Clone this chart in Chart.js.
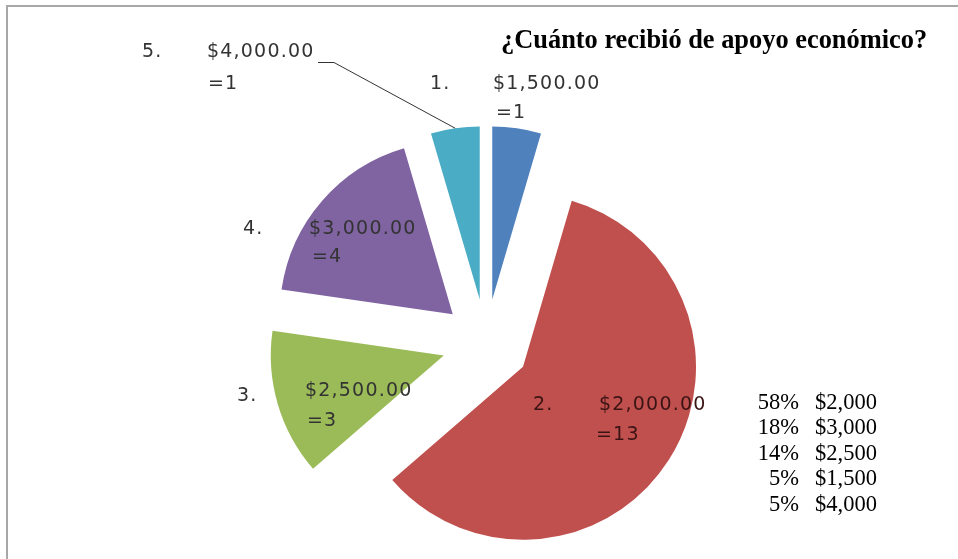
<!DOCTYPE html>
<html>
<head>
<meta charset="utf-8">
<script src="https://cdn.jsdelivr.net/npm/chart.js@4.4.0/dist/chart.umd.min.js"></script>
<style>
  html, body { margin: 0; padding: 0; background: #fff; }
  #wrap { position: relative; width: 958px; height: 559px; overflow: hidden; }
  #frame { position: absolute; left: 6px; top: 5px; right: 0; bottom: 0;
           border-top: 2px solid #a8a8a8; border-left: 2px solid #a8a8a8; }
  canvas { position: absolute; left: 0; top: 0; }
</style>
</head>
<body>
<div id="wrap">
  <div id="frame"></div>
  <canvas id="pie" width="958" height="559"></canvas>
</div>
<script>
// data, in drawing order (clockwise from 12 o'clock)
const categories = ['$1,500.00', '$2,000.00', '$2,500.00', '$3,000.00', '$4,000.00']
const numbers = ['1.', '2.', '3.', '4.', '5.']
const counts = [1, 13, 3, 4, 1]
const sliceColors = ['#4F81BD', '#C0504D', '#9BBB59', '#8064A2', '#4BACC6']

const titleText = '¿Cuánto recibió de apoyo económico?'
const legendPct = ['58%', '18%', '14%', '5%', '5%']
const legendAmt = ['$2,000', '$3,000', '$2,500', '$1,500', '$4,000']

const pieRadius = 173
// how far each slice is pulled out, in px
const pullOut = [44, 44, 44, 44, 44]

// where each slice label sits: [numX, numY, amtX, amtY, eqX, eqY]
const labelPos = [
    [430, 84, 493, 84, 496, 113],
    [533, 405, 599, 405, 596, 435],
    [237, 396, 305, 391, 307, 421],
    [243, 229, 309, 229, 312, 257],
    [142, 52, 207, 52, 208, 84],
]

// chart.js shifts an arc by offset/4, grows it by offset/4 * fix and trims its
// angle a little, so undo the growing and the trimming: plain exploded slices
const sliceOffsets = pullOut.map(d => 4 * d)

const keepRadius = {
    id: 'keepRadius',
    afterDatasetUpdate(chart, args) {
        args.meta.data.forEach((arc, i) => {
            const fix = 1 - Math.sin(Math.min(Math.PI, arc.circumference))
            const grow = pullOut[i] * fix
            const trim = grow / (2 * Math.PI * pieRadius)
            arc.outerRadius = pieRadius - grow
            arc.startAngle -= trim
            arc.endAngle += trim
        })
    }
}

const labelPlugin = {
    id: 'labels',
    afterDatasetsDraw(chart) {
        const ctx = chart.ctx
        const arcs = chart.getDatasetMeta(0).data

        // leader line from the $4,000.00 label to its slice
        const a = arcs[4]
        const mid = (a.startAngle + a.endAngle) / 2
        const dist = pullOut[4] + pieRadius
        const ex = a.x + Math.cos(mid) * dist
        const ey = a.y + Math.sin(mid) * dist
        ctx.save()
        ctx.strokeStyle = '#333'
        ctx.lineWidth = 1
        ctx.beginPath()
        ctx.moveTo(318, 62.5)
        ctx.lineTo(334, 62.5)
        ctx.lineTo(ex, ey)
        ctx.stroke()

        // slice labels
        ctx.font = '19px "DejaVu Sans"'
        ctx.letterSpacing = '1.2px'
        ctx.textBaseline = 'middle'
        ctx.textAlign = 'left'
        categories.forEach((cat, i) => {
            const p = labelPos[i]
            ctx.fillStyle = i === 1 ? '#3a1414' : '#333'
            ctx.fillText(numbers[i], p[0], p[1])
            ctx.fillText(cat, p[2], p[3])
            ctx.fillText('=' + counts[i], p[4], p[5])
        })
        ctx.letterSpacing = '0px'

        // title
        ctx.fillStyle = '#000'
        ctx.font = 'bold 26.4px "Liberation Serif"'
        ctx.textBaseline = 'alphabetic'
        ctx.fillText(titleText, 501, 48)

        // percentage table
        ctx.font = '22.5px "Liberation Serif"'
        ctx.textBaseline = 'middle'
        legendPct.forEach((pct, i) => {
            const y = 403 + i * 25.5
            ctx.textAlign = 'right'
            ctx.fillText(pct, 799, y)
            ctx.textAlign = 'left'
            ctx.fillText(legendAmt[i], 815, y)
        })
        ctx.restore()
    }
}

const myChart = new Chart(document.getElementById('pie').getContext('2d'), {
    type: 'pie',
    data: {
        labels: categories,
        datasets: [{
            data: counts,
            backgroundColor: sliceColors,
            borderWidth: 0,
            offset: sliceOffsets,
            hoverOffset: 0,
            clip: false,
        }]
    },
    options: {
        responsive: false,
        animation: false,
        events: [],
        radius: pieRadius,
        layout: {
            padding: { left: 14, right: 0, top: 127, bottom: 0 }
        },
        plugins: {
            legend: { display: false },
            tooltip: { enabled: false },
            title: { display: false },
        }
    },
    plugins: [keepRadius, labelPlugin]
})
</script>
</body>
</html>
